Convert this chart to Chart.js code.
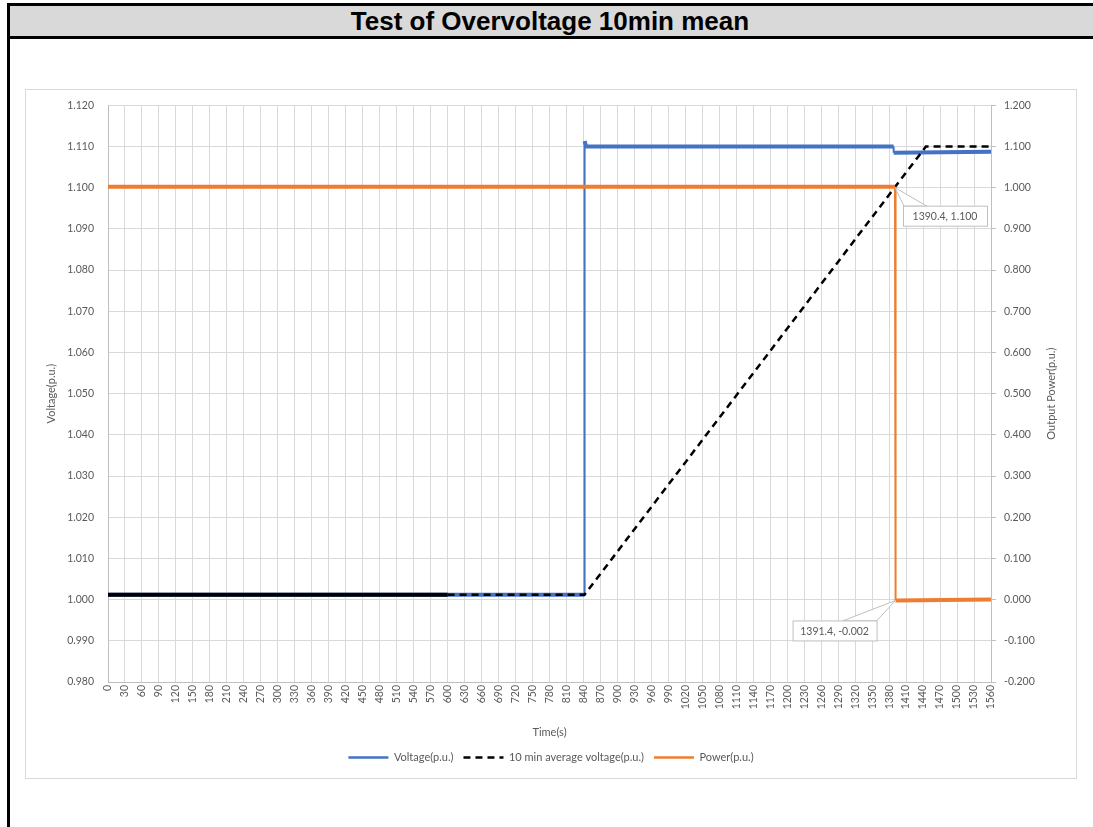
<!DOCTYPE html>
<html>
<head>
<meta charset="utf-8">
<title>Test of Overvoltage 10min mean</title>
<script src="https://cdn.jsdelivr.net/npm/chart.js@4.4.1/dist/chart.umd.min.js"></script>
<style>
  body { margin: 0; background: #fff; width: 1093px; height: 827px; overflow: hidden; position: relative; }
  #band {
    position: absolute; left: 7px; top: 3px; right: 0; height: 30px;
    background: #d9d9d9; border-top: 3px solid #000; border-bottom: 3px solid #000;
    font: bold 26px "Liberation Sans", Arial, sans-serif; text-align: center; line-height: 30px; color: #000;
  }
  #leftline { position: absolute; left: 7px; top: 3px; width: 3px; height: 824px; background: #000; }
  #box { position: absolute; left: 25px; top: 89px; width: 1050px; height: 688px; border: 1px solid #d9d9d9; }
  canvas { position: absolute; left: 0; top: -5px; }
</style>
</head>
<body>
<div id="band">Test of Overvoltage 10min mean</div>
<div id="leftline"></div>
<div id="box"><canvas id="myChart" width="1050" height="693"></canvas></div>
<script>
// measured series (time in s)
const voltTime = [0, 842, 842, 845, 1388, 1388, 1560];
const voltValue = [1.0012, 1.0012, 1.1113, 1.1100, 1.1100, 1.1085, 1.1087];

const avgTime = [0, 600, 842, 1445, 1560];
const avgValue = [1.0012, 1.0012, 1.0012, 1.1100, 1.1100];

const powerTime = [0, 1390.4, 1391.4, 1560];
const powerValue = [1.002, 1.002, -0.002, 0.000];

// data labels shown on the chart
const calloutX = [1390.4, 1391.4];
const calloutY = [1.100, -0.002];
const calloutAxis = ['y', 'y1'];

const seriesNames = ['Voltage(p.u.)', '10 min average voltage(p.u.)', 'Power(p.u.)'];

const fontFam = 'Lato, "Open Sans", sans-serif';
const txtColor = '#595959';

function toPoints(xs, ys) {
    return xs.map((x, i) => ({ x: x, y: ys[i] }));
}

const isJump = c => Math.abs(c.p1.parsed.x - c.p0.parsed.x) < 1.5;
const fmt3 = v => (Math.abs(v) < 1e-9 ? 0 : v).toFixed(3);

const extraText = {
    id: 'extraText',
    afterDraw(chart) {
        const ctx = chart.ctx;
        const a = chart.chartArea;
        const midY = (a.top + a.bottom) / 2;
        ctx.save();
        ctx.fillStyle = txtColor;
        ctx.font = '11px ' + fontFam;
        ctx.textAlign = 'center';
        ctx.textBaseline = 'middle';
        ctx.fillText('Time(s)', (a.left + a.right) / 2, 647);
        ctx.save();
        ctx.translate(25, midY);
        ctx.rotate(-Math.PI / 2);
        ctx.fillText('Voltage(p.u.)', 0, 0);
        ctx.restore();
        ctx.save();
        ctx.translate(1025, midY);
        ctx.rotate(-Math.PI / 2);
        ctx.fillText('Output Power(p.u.)', 0, 0);
        ctx.restore();

        // callout labels
        const xs = chart.scales.x;
        ctx.font = '10.5px ' + fontFam;
        ctx.lineWidth = 1;
        ctx.strokeStyle = '#bfbfbf';
        for (let i = 0; i < calloutX.length; i++) {
            const px = xs.getPixelForValue(calloutX[i]);
            const py = chart.scales[calloutAxis[i]].getPixelForValue(calloutY[i]);
            const txt = calloutX[i].toFixed(1) + ', ' + calloutY[i].toFixed(3);
            let bx, by, bw = 84, bh = 20, w1, w2;
            if (i === 0) {
                bx = px + 8; by = py + 18; w1 = bx + 1; w2 = bx + 24;
            } else {
                bx = px - 103; by = py + 20; w1 = bx + 50; w2 = bx + bw;
            }
            ctx.beginPath();
            ctx.moveTo(px, py);
            ctx.lineTo(w1, by + 0.5);
            ctx.lineTo(w2, by + 0.5);
            ctx.closePath();
            ctx.fillStyle = '#fff';
            ctx.fill();
            ctx.stroke();
            ctx.fillRect(bx + 0.5, by + 0.5, bw, bh);
            ctx.strokeRect(bx + 0.5, by + 0.5, bw, bh);
            ctx.fillStyle = txtColor;
            ctx.fillText(txt, bx + bw / 2, by + bh / 2 + 1);
        }
        ctx.restore();
    }
};

const ctx = document.getElementById('myChart').getContext('2d');
const myChart = new Chart(ctx, {
    type: 'line',
    data: {
        datasets: [{
            label: seriesNames[0],
            data: toPoints(voltTime, voltValue),
            borderColor: '#4472c4',
            backgroundColor: '#4472c4',
            borderWidth: 2,
            pointRadius: 0,
            yAxisID: 'y',
            order: 3,
            segment: { borderWidth: c => isJump(c) ? 2 : 4 }
        }, {
            label: seriesNames[1],
            data: toPoints(avgTime, avgValue),
            borderColor: '#000000',
            backgroundColor: '#000000',
            borderWidth: 2.5,
            borderDash: [7, 5],
            pointRadius: 0,
            yAxisID: 'y',
            order: 2,
            segment: {
                borderDash: c => c.p0.parsed.x < 600 ? [] : [7, 5],
                borderWidth: c => c.p0.parsed.x < 600 ? 4 : 2.5
            }
        }, {
            label: seriesNames[2],
            data: toPoints(powerTime, powerValue),
            borderColor: '#ed7d31',
            backgroundColor: '#ed7d31',
            borderWidth: 2,
            pointRadius: 0,
            yAxisID: 'y1',
            order: 1,
            segment: { borderWidth: c => isJump(c) ? 2 : 4 }
        }]
    },
    options: {
        responsive: false,
        animation: false,
        devicePixelRatio: 1,
        layout: { padding: { top: 11, bottom: 5, left: 0, right: 0 } },
        plugins: {
            tooltip: { enabled: false },
            legend: {
                position: 'bottom',
                labels: {
                    usePointStyle: true,
                    pointStyle: 'line',
                    pointStyleWidth: 40,
                    color: txtColor,
                    font: { family: fontFam, size: 11 },
                    padding: 10,
                    sort: (a, b) => a.datasetIndex - b.datasetIndex,
                    generateLabels: chart => {
                        const items = Chart.defaults.plugins.legend.labels.generateLabels(chart);
                        items.forEach(it => {
                            const ds = chart.data.datasets[it.datasetIndex];
                            it.lineWidth = 2.5;
                            it.lineDash = ds.borderDash || [];
                            it.strokeStyle = ds.borderColor;
                        });
                        return items;
                    }
                }
            }
        },
        scales: {
            x: {
                type: 'linear',
                min: 0,
                max: 1560,
                afterFit: s => { s.height = 60; },
                ticks: {
                    stepSize: 30,
                    autoSkip: false,
                    minRotation: 90,
                    maxRotation: 90,
                    padding: 3,
                    color: txtColor,
                    font: { family: fontFam, size: 10.5 },
                    callback: v => String(v)
                },
                grid: { color: '#d9d9d9', drawTicks: false },
                border: { color: '#bfbfbf' }
            },
            y: {
                position: 'left',
                min: 0.98,
                max: 1.12,
                afterFit: s => { s.width = 82; },
                ticks: {
                    stepSize: 0.01,
                    padding: 14,
                    color: txtColor,
                    font: { family: fontFam, size: 10.5 },
                    callback: fmt3
                },
                grid: { color: '#d9d9d9', drawTicks: false },
                border: { color: '#bfbfbf' }
            },
            y1: {
                position: 'right',
                min: -0.2,
                max: 1.2,
                afterFit: s => { s.width = 85; },
                ticks: {
                    stepSize: 0.1,
                    padding: 8,
                    color: txtColor,
                    font: { family: fontFam, size: 10.5 },
                    callback: fmt3
                },
                grid: { drawOnChartArea: false, tickLength: 5, color: '#bfbfbf' },
                border: { color: '#bfbfbf' }
            }
        }
    },
    plugins: [extraText]
});
</script>
</body>
</html>
